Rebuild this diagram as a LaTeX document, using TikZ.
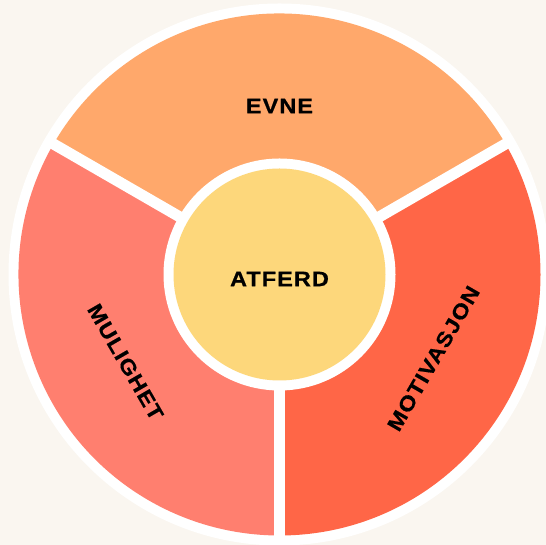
\documentclass[tikz,border=0pt]{standalone}
\usepackage{fontspec}
\newfontfamily\lblfont[LetterSpace=5,FakeStretch=1.12,FakeBold=0.6]{Liberation Sans Bold}
\definecolor{bgc}{HTML}{FAF6F0}
\definecolor{evnec}{HTML}{FFA86B}
\definecolor{mulc}{HTML}{FF7F6F}
\definecolor{motc}{HTML}{FF6647}
\definecolor{atfc}{HTML}{FDD77B}
\begin{document}
\begin{tikzpicture}[x=1pt,y=1pt,
  lbl/.style={font=\lblfont\fontsize{21}{21}\selectfont, text=black, inner sep=0pt},
  gap/.style={white, line width=11pt}]
\useasboundingbox (0,0) rectangle (546,545);
\fill[bgc] (0,0) rectangle (546,545);
\coordinate (c) at (279.5,270.5);
\fill[white] (c) circle (271);
\fill[evnec] (c) -- ++(30:261) arc (30:150:261) -- cycle;
\fill[mulc] (c) -- ++(150:261) arc (150:270:261) -- cycle;
\fill[motc] (c) -- ++(270:261) arc (270:390:261) -- cycle;
\foreach \a in {30,150,270} \draw[gap] (c) -- ++(\a:266);
\fill[white] (c) circle (116);
\node[circle, fill=atfc, minimum size=212pt, inner sep=0pt] (center) at (c) {};
\node[lbl] (atferd) at (279.5,266) {ATFERD};
\node[lbl] (evne) at (279.5,439) {EVNE};
\node[lbl, rotate=-60] (mulighet) at (125.5,183) {MULIGHET};
\node[lbl, rotate=60] (motivasjon) at (433.5,186.5) {MOTIVASJON};
\end{tikzpicture}
\end{document}
